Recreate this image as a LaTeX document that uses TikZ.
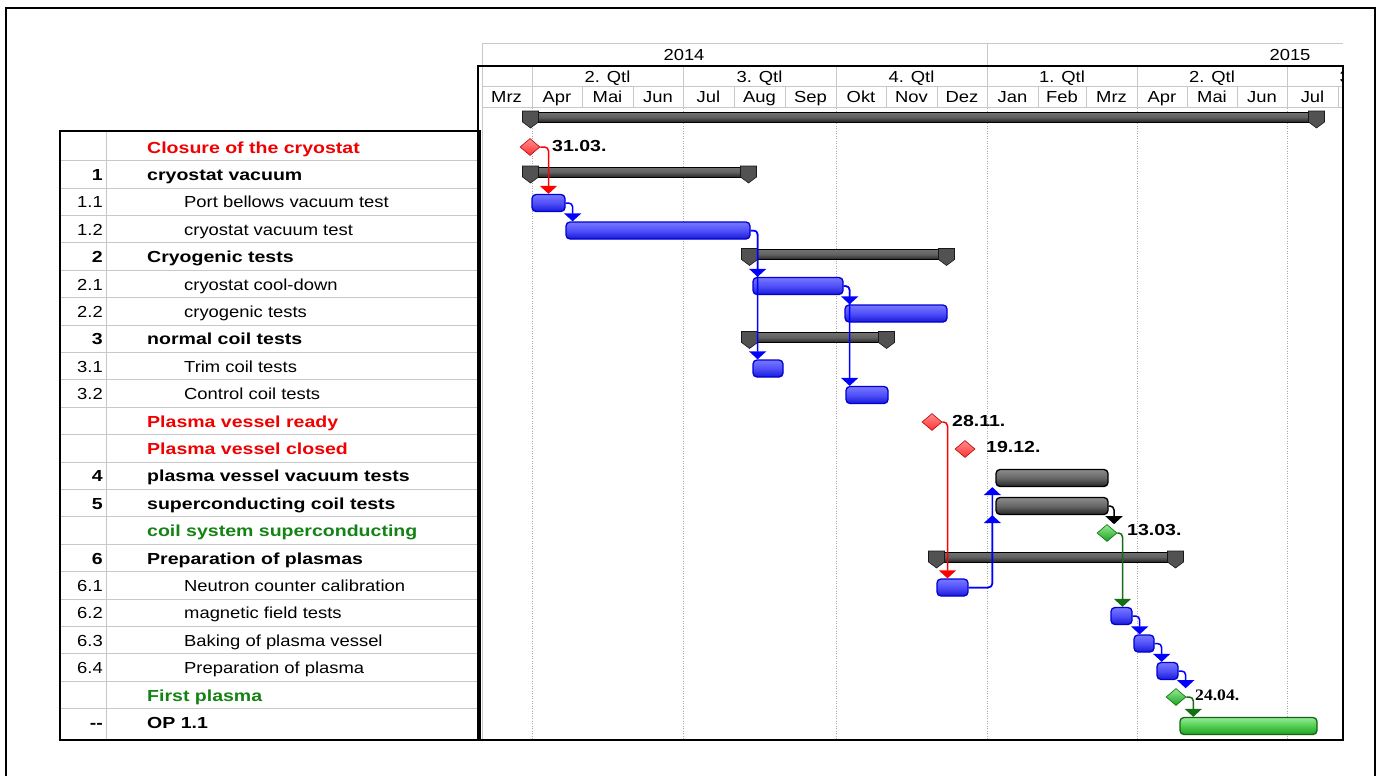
\documentclass[tikz,border=0pt]{standalone}
\usepackage{fontspec}
\setmainfont{Liberation Sans}
\newfontfamily\gf[FakeStretch=1.15]{Liberation Sans}
\newfontfamily\gfb[FakeStretch=1.22]{Liberation Sans}
\newfontfamily\gfs[FakeStretch=1.1]{Liberation Serif}
\usetikzlibrary{shapes.geometric,arrows.meta,calc}
\definecolor{gline}{RGB}{200,200,200}
\definecolor{gdot}{RGB}{170,170,170}
\definecolor{tred}{RGB}{240,0,0}
\definecolor{tgreen}{RGB}{20,130,20}
\definecolor{bborder}{RGB}{0,0,210}
\definecolor{btop}{RGB}{120,120,255}
\definecolor{bmid}{RGB}{80,80,250}
\definecolor{bbot}{RGB}{25,25,215}
\definecolor{gtop}{RGB}{150,235,150}
\definecolor{gmid}{RGB}{80,205,80}
\definecolor{gbot}{RGB}{30,160,30}
\definecolor{gborder}{RGB}{20,100,20}
\definecolor{ared}{RGB}{255,0,0}
\definecolor{ablue}{RGB}{0,0,255}
\definecolor{agreen}{RGB}{20,110,20}
\tikzset{
  hdr/.style={anchor=base,inner sep=0},
  num/.style={anchor=base east,inner sep=0},
  numb/.style={anchor=base east,inner sep=0,font=\gfb\fontsize{16}{18}\selectfont\bfseries},
  txtb/.style={anchor=base west,inner sep=0,font=\gfb\fontsize{16}{18}\selectfont\bfseries},
  txtr/.style={anchor=base west,inner sep=0},
  mslabel/.style={anchor=base west,inner sep=0,font=\gfb\fontsize{16}{18}\selectfont\bfseries},
  bluebar/.style={draw=bborder,line width=1.3pt,rounded corners=4pt,top color=btop,bottom color=bbot,middle color=bmid,minimum height=17pt,inner sep=0},
  darkbar/.style={draw=black,line width=1.3pt,rounded corners=4pt,top color=black!45,bottom color=black!85,middle color=black!60,minimum height=17pt,inner sep=0},
  greenbar/.style={draw=gborder,line width=1.3pt,rounded corners=4pt,top color=gtop,bottom color=gbot,middle color=gmid,minimum height=17pt,inner sep=0},
  sumbar/.style={draw=black,line width=1pt,top color=black!55,bottom color=black!85,middle color=black!62,minimum height=10pt,inner sep=0},
  capfill/.style={fill=black!68,draw=black!90,line width=0.6pt},
  redms/.style={diamond,draw=red!75!black,line width=0.6pt,top color=red!45,bottom color=red!80,minimum width=20pt,minimum height=17pt,inner sep=0},
  greenms/.style={diamond,draw=green!45!black,line width=0.6pt,top color=gtop,bottom color=gbot,minimum width=20pt,minimum height=17pt,inner sep=0},
  dep/.style={line width=1.5pt,rounded corners=4pt,-{Triangle[width=17pt,length=8pt]}},
  grid/.style={gdot,line width=1pt,dash pattern=on 1pt off 1.5pt}
}
\newcommand{\gcap}[1]{\filldraw[capfill] ([shift={(-8,-6)}]#1) -- ++(16,0) -- ++(0,11) -- ++(-8,6) -- ++(-8,-6) -- cycle;}
\begin{document}
\begin{tikzpicture}[x=1pt,y=-1pt,font=\gf\fontsize{16}{18}\selectfont]
\useasboundingbox (0,0) rectangle (1381,776);
\fill[white] (0,0) rectangle (1381,776);
% outer frame
\draw[line width=2.5pt] (6,776) -- (6,8) -- (1375,8) -- (1375,776);

% ---------- left table ----------
\foreach \k in {0,...,20} \draw[gline,line width=1pt] (61,{160.7+27.4*\k}) -- (479,{160.7+27.4*\k});
\draw[gline,line width=1pt] (106,131) -- (106,740);
\draw[line width=2pt] (60,131) rectangle (480,740);

\node[txtb,text=tred] (r0) at (147,153) {Closure of the cryostat};
\node[numb] (n1) at (103,180.4) {1};
\node[txtb] (r1) at (147,180.4) {cryostat vacuum};
\node[num] (n2) at (103,207.8) {1.1};
\node[txtr] (r2) at (184,207.8) {Port bellows vacuum test};
\node[num] (n3) at (103,235.2) {1.2};
\node[txtr] (r3) at (184,235.2) {cryostat vacuum test};
\node[numb] (n4) at (103,262.6) {2};
\node[txtb] (r4) at (147,262.6) {Cryogenic tests};
\node[num] (n5) at (103,290) {2.1};
\node[txtr] (r5) at (184,290) {cryostat cool-down};
\node[num] (n6) at (103,317.4) {2.2};
\node[txtr] (r6) at (184,317.4) {cryogenic tests};
\node[numb] (n7) at (103,344.8) {3};
\node[txtb] (r7) at (147,344.8) {normal coil tests};
\node[num] (n8) at (103,372.2) {3.1};
\node[txtr] (r8) at (184,372.2) {Trim coil tests};
\node[num] (n9) at (103,399.6) {3.2};
\node[txtr] (r9) at (184,399.6) {Control coil tests};
\node[txtb,text=tred] (r10) at (147,427) {Plasma vessel ready};
\node[txtb,text=tred] (r11) at (147,454.4) {Plasma vessel closed};
\node[numb] (n12) at (103,481.8) {4};
\node[txtb] (r12) at (147,481.8) {plasma vessel vacuum tests};
\node[numb] (n13) at (103,509.2) {5};
\node[txtb] (r13) at (147,509.2) {superconducting coil tests};
\node[txtb,text=tgreen] (r14) at (147,536.6) {coil system superconducting};
\node[numb] (n15) at (103,564) {6};
\node[txtb] (r15) at (147,564) {Preparation of plasmas};
\node[num] (n16) at (103,591.4) {6.1};
\node[txtr] (r16) at (184,591.4) {Neutron counter calibration};
\node[num] (n17) at (103,618.8) {6.2};
\node[txtr] (r17) at (184,618.8) {magnetic field tests};
\node[num] (n18) at (103,646.2) {6.3};
\node[txtr] (r18) at (184,646.2) {Baking of plasma vessel};
\node[num] (n19) at (103,673.6) {6.4};
\node[txtr] (r19) at (184,673.6) {Preparation of plasma};
\node[txtb,text=tgreen] (r20) at (147,701) {First plasma};
\node[numb] (n21) at (103,728.4) {--};
\node[txtb] (r21) at (147,728.4) {OP 1.1};

% ---------- chart header ----------
\draw[gline,line width=1pt] (482,740) -- (482,44) -- (1343,44);
\draw[gline,line width=1pt] (482,86) -- (1343,86);
\draw[gline,line width=1pt] (482,107) -- (1343,107);
\draw[gline,line width=1pt] (987,44) -- (987,107);
\foreach \x in {532,683,836,1137,1287} \draw[gline,line width=1pt] (\x,66) -- (\x,107);
\foreach \x in {582,633,734,785,886,937,1038,1086,1187,1237,1338} \draw[gline,line width=1pt] (\x,86) -- (\x,107);
\node[hdr] (y14) at (684,61) {2014};
\node[hdr] (y15) at (1290,61) {2015};
\foreach \x/\q [count=\i] in {607.5/2,759.5/3,911.5/4,1062/1,1212/2}
  \node[hdr] (q\i) at (\x,82) {\q. Qtl};
\begin{scope}
  \clip (1288,67) rectangle (1342,85);
  \node[hdr] (q6) at (1362.5,82) {3. Qtl};
\end{scope}
\foreach \x/\m [count=\i] in {506.5/Mrz,557/Apr,607.5/Mai,658/Jun,708.5/Jul,759.5/Aug,810.5/Sep,861/Okt,911.5/Nov,962/Dez,1012.5/Jan,1062/Feb,1111.5/Mrz,1162/Apr,1212/Mai,1262/Jun,1312.5/Jul}
  \node[hdr] (mo\i) at (\x,102) {\m};

% dotted grid
\foreach \x in {532,683,836,987,1137,1287} \draw[grid] (\x,108) -- (\x,739);

% chart border
\draw[line width=2pt] (478,66) -- (1343,66) -- (1343,740) -- (478,740) -- cycle;

% ---------- summary bars ----------
\node[sumbar,minimum width=785pt] (sp) at (923.5,117) {};
\gcap{sp.west}\gcap{sp.east}
\node[sumbar,minimum width=217pt] (s1) at (639.5,172) {};
\gcap{s1.west}\gcap{s1.east}
\node[sumbar,minimum width=196pt] (s2) at (848,254.5) {};
\gcap{s2.west}\gcap{s2.east}
\node[sumbar,minimum width=136pt] (s3) at (818,337.5) {};
\gcap{s3.west}\gcap{s3.east}
\node[sumbar,minimum width=238pt] (s6) at (1056,557) {};
\gcap{s6.west}\gcap{s6.east}

% ---------- task bars ----------
\node[bluebar,minimum width=33pt] (t11) at (548.5,203) {};
\node[bluebar,minimum width=184pt] (t12) at (658,230.5) {};
\node[bluebar,minimum width=90pt] (t21) at (798,286) {};
\node[bluebar,minimum width=102pt] (t22) at (896,313.5) {};
\node[bluebar,minimum width=30pt] (t31) at (768,368.5) {};
\node[bluebar,minimum width=42pt] (t32) at (867,395) {};
\node[darkbar,minimum width=112pt] (t4) at (1052,478) {};
\node[darkbar,minimum width=112pt] (t5) at (1052,506) {};
\node[bluebar,minimum width=31pt] (t61) at (952.5,587.5) {};
\node[bluebar,minimum width=21pt] (t62) at (1121.5,616) {};
\node[bluebar,minimum width=20pt] (t63) at (1144,643.5) {};
\node[bluebar,minimum width=21pt] (t64) at (1167.5,671) {};
\node[greenbar,minimum width=137pt] (op) at (1248.5,726) {};

% ---------- milestones ----------
\node[redms] (m0) at (530,147) {};
\node[mslabel] (l0) at (552,151) {31.03.};
\node[redms] (m1) at (932,422) {};
\node[mslabel] (l1) at (952,426) {28.11.};
\node[redms] (m2) at (965,449) {};
\node[mslabel] (l2) at (986,452.5) {19.12.};
\node[greenms] (m3) at (1107,533) {};
\node[mslabel] (l3) at (1127,535.5) {13.03.};
\node[greenms] (m4) at (1176,697) {};
\node[mslabel,font=\gfs\fontsize{16}{18}\selectfont\bfseries] (l4) at (1195,700) {24.04.};

% ---------- connectors ----------
\draw[dep,ared] (m0.east) -| (t11.north);
\draw[dep,ablue] (t11.east) -| ([xshift=7pt]t11.east |- t12.north);
\draw[dep,ablue] (t12.east) -| ([xshift=7pt]t12.east |- t21.north);
\draw[dep,ablue] (t12.east) -| ([xshift=7pt]t12.east |- t31.north);
\draw[dep,ablue] (t21.east) -| ([xshift=6pt]t21.east |- t22.north);
\draw[dep,ablue] (t21.east) -| ([xshift=6pt]t21.east |- t32.north);
\draw[dep,ared] (m1.east) -| ([xshift=-5pt]t61.north);
\draw[dep,ablue] (t61.east) -| ([xshift=-3pt]t5.south west);
\draw[dep,ablue] (t61.east) -| ([xshift=-3pt]t4.south west);
\draw[dep,black] (t5.east) -| ([xshift=7pt]m3.north);
\draw[dep,agreen] (m3.east) -| ([xshift=1pt]t62.north);
\draw[dep,ablue] (t62.east) -| ([xshift=7pt]t62.east |- t63.north);
\draw[dep,ablue] (t63.east) -| ([xshift=7pt]t63.east |- t64.north);
\draw[dep,ablue] (t64.east) -| ([xshift=7pt]t64.east |- m4.north);
\draw[dep,agreen] (m4.east) -| ([xshift=7pt]m4.east |- op.north);
\end{tikzpicture}
\end{document}
